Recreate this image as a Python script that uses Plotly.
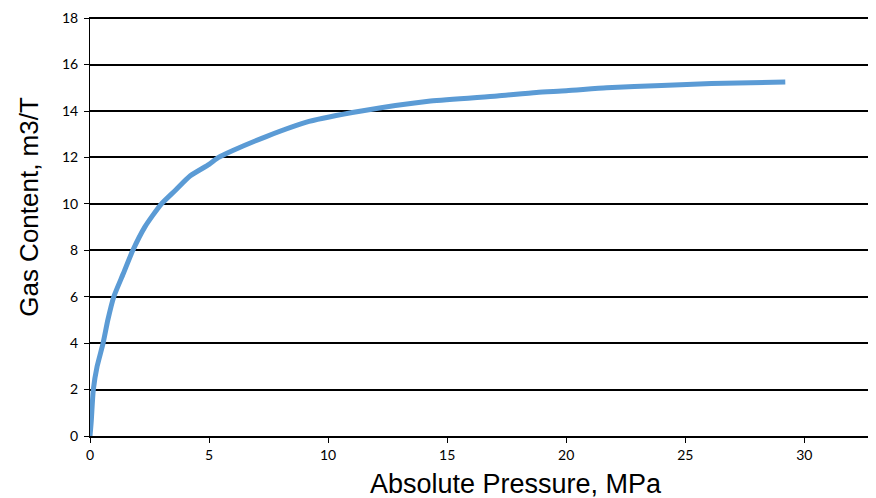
import plotly.graph_objects as go

pressure = [0, 0.05, 0.14, 0.3, 0.55, 0.75, 1.0, 1.4, 1.8, 2.3, 3.0, 3.6, 4.2, 5.0, 5.4,
            6.0, 7.4, 9.2, 11.4, 14.3, 17.1, 18.75, 20.0, 21.7, 24.0, 26.1, 29.2]
gas_content = [0, 0.6, 2.0, 3.0, 4.0, 5.0, 6.0, 7.0, 8.0, 9.0, 10.0, 10.6, 11.2, 11.7, 12.0,
               12.3, 12.9, 13.55, 14.0, 14.43, 14.65, 14.8, 14.87, 15.0, 15.1, 15.18, 15.25]
x_ticks = [0, 5, 10, 15, 20, 25, 30]
y_ticks = [0, 2, 4, 6, 8, 10, 12, 14, 16, 18]
x_title = "Absolute Pressure, MPa"
y_title = "Gas Content, m3/T"

fig = go.Figure()
fig.add_trace(go.Scatter(x=pressure, y=gas_content, mode="lines",
                         line=dict(color="#5B9BD5", width=5, shape="spline", smoothing=0.6),
                         showlegend=False))

# top gridline (at the range edge)
fig.add_shape(type="line", xref="paper", yref="y", x0=0, x1=1, y0=y_ticks[-1], y1=y_ticks[-1],
              line=dict(color="black", width=1.5), layer="below")

title_font = "'Liberation Sans', Arial, sans-serif"
fig.add_annotation(text=x_title, xref="paper", yref="paper", x=0.546, y=0, yshift=-48,
                   xanchor="center", yanchor="middle", showarrow=False,
                   font=dict(size=27, family=title_font, color="#000000"))
fig.add_annotation(text=y_title, xref="paper", yref="paper", x=0, xshift=-61, y=0.547,
                   xanchor="center", yanchor="middle", textangle=-90, showarrow=False,
                   font=dict(size=26, family=title_font, color="#000000"))

fig.update_layout(
    width=868, height=490,
    margin=dict(l=82, r=5, t=9, b=62),
    paper_bgcolor="white", plot_bgcolor="white",
    font=dict(family="Lato, 'Open Sans', sans-serif", color="#000000"),
)
fig.update_xaxes(
    range=[0, 32.8], tickvals=x_ticks, ticks="outside", ticklen=5, tickcolor="black",
    showgrid=False, zeroline=False, showline=True, linecolor="black", linewidth=2,
    tickfont=dict(size=14, family="Lato, sans-serif"), automargin=False,
)
fig.update_yaxes(
    range=[0, 18.05], tickvals=y_ticks, ticks="outside", ticklen=5, tickcolor="black",
    showgrid=True, gridcolor="black", gridwidth=1.5, zeroline=False,
    showline=True, linecolor="black", linewidth=1, ticklabelstandoff=3,
    tickfont=dict(size=14, family="Lato, sans-serif"), automargin=False,
)

fig.write_html("out.html")
